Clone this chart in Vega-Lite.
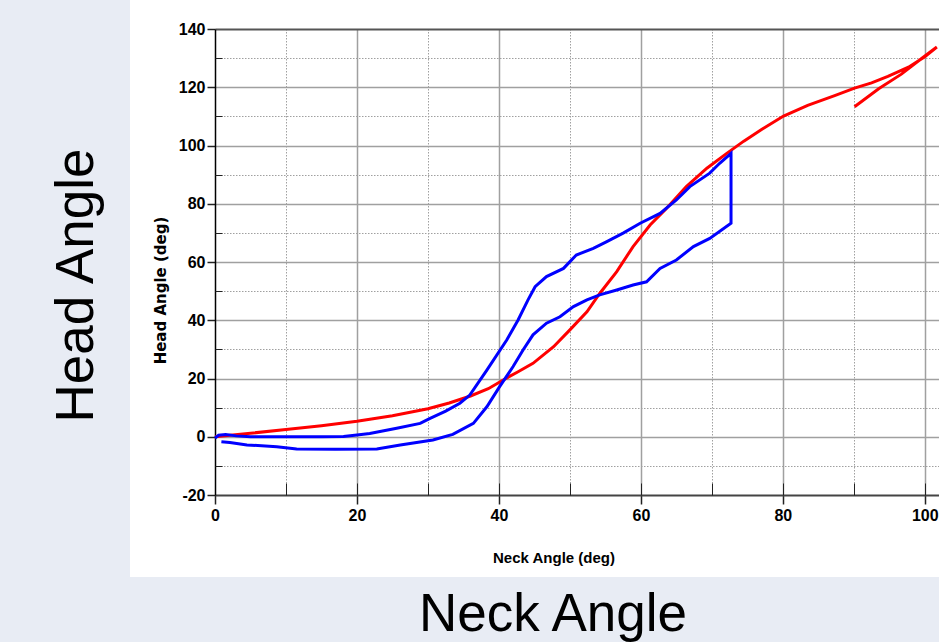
{
  "$schema": "https://vega.github.io/schema/vega-lite/v6.json",
  "width": 724,
  "height": 466,
  "autosize": "none",
  "padding": {"left": 215, "top": 29, "right": 0, "bottom": 147},
  "background": "white",
  "config": {"view": {"stroke": null}},
  "datasets": {
    "red": [
      {"i": 1, "x": 0, "y": 0}, {"i": 2, "x": 5, "y": 1.2}, {"i": 3, "x": 10, "y": 2.5}, {"i": 4, "x": 15, "y": 3.8},
      {"i": 5, "x": 20, "y": 5.3}, {"i": 6, "x": 25, "y": 7.2}, {"i": 7, "x": 30, "y": 9.6}, {"i": 8, "x": 33, "y": 11.6},
      {"i": 9, "x": 36, "y": 14.0}, {"i": 10, "x": 38.5, "y": 16.5}, {"i": 11, "x": 40.6, "y": 19.5}, {"i": 12, "x": 42.7, "y": 22.3},
      {"i": 13, "x": 44.8, "y": 25.2}, {"i": 14, "x": 47.7, "y": 30.9}, {"i": 15, "x": 50.0, "y": 36.7}, {"i": 16, "x": 52.4, "y": 42.9},
      {"i": 17, "x": 54.2, "y": 49.2}, {"i": 18, "x": 56.6, "y": 56.7}, {"i": 19, "x": 58.9, "y": 65.3}, {"i": 20, "x": 61.3, "y": 72.7},
      {"i": 21, "x": 63.6, "y": 78.4}, {"i": 22, "x": 66.4, "y": 85.9}, {"i": 23, "x": 69.3, "y": 92.2}, {"i": 24, "x": 72.1, "y": 97.3},
      {"i": 25, "x": 74.5, "y": 101.5}, {"i": 26, "x": 77, "y": 105.5}, {"i": 27, "x": 80.1, "y": 110.1}, {"i": 28, "x": 83.5, "y": 113.8},
      {"i": 29, "x": 87.3, "y": 117.1}, {"i": 30, "x": 90.1, "y": 119.7}, {"i": 31, "x": 92.5, "y": 121.5}, {"i": 32, "x": 94.8, "y": 123.7},
      {"i": 33, "x": 97.7, "y": 126.9}, {"i": 34, "x": 100, "y": 130.5}, {"i": 35, "x": 101.7, "y": 133.8},
      {"i": 36, "x": 99.5, "y": 129.8}, {"i": 37, "x": 96.7, "y": 124.5}, {"i": 38, "x": 93.5, "y": 119.5}, {"i": 39, "x": 90.1, "y": 113.3}
    ],
    "blue": [
      {"i": 1, "x": 0, "y": -0.5}, {"i": 2, "x": 0.5, "y": 0.5}, {"i": 3, "x": 1.5, "y": 0.8}, {"i": 4, "x": 3, "y": 0.3},
      {"i": 5, "x": 5, "y": 0}, {"i": 6, "x": 10, "y": 0}, {"i": 7, "x": 15, "y": 0}, {"i": 8, "x": 18.1, "y": 0.1},
      {"i": 9, "x": 20, "y": 0.6}, {"i": 10, "x": 21.8, "y": 1.1}, {"i": 11, "x": 25.6, "y": 2.9}, {"i": 12, "x": 28.9, "y": 4.6},
      {"i": 13, "x": 30.3, "y": 6.3}, {"i": 14, "x": 32.5, "y": 8.8}, {"i": 15, "x": 34.5, "y": 11.5}, {"i": 16, "x": 35.9, "y": 14.3},
      {"i": 17, "x": 38.3, "y": 22.9}, {"i": 18, "x": 41.1, "y": 33.2}, {"i": 19, "x": 42.7, "y": 40.1}, {"i": 20, "x": 44.1, "y": 47.0},
      {"i": 21, "x": 45.1, "y": 51.5}, {"i": 22, "x": 46.7, "y": 55.0}, {"i": 23, "x": 49.1, "y": 57.8}, {"i": 24, "x": 50.9, "y": 62.4},
      {"i": 25, "x": 53.3, "y": 64.7}, {"i": 26, "x": 55.2, "y": 67.0}, {"i": 27, "x": 57.5, "y": 69.9}, {"i": 28, "x": 59.9, "y": 73.3},
      {"i": 29, "x": 62.7, "y": 76.7}, {"i": 30, "x": 65.0, "y": 81.3}, {"i": 31, "x": 66.9, "y": 85.9}, {"i": 32, "x": 69.7, "y": 90.5},
      {"i": 33, "x": 71.1, "y": 93.9}, {"i": 34, "x": 72.7, "y": 97.3}, {"i": 35, "x": 72.7, "y": 73.3}, {"i": 36, "x": 69.7, "y": 68.1},
      {"i": 37, "x": 67.4, "y": 65.3}, {"i": 38, "x": 65.0, "y": 60.7}, {"i": 39, "x": 62.7, "y": 57.8}, {"i": 40, "x": 60.8, "y": 53.2},
      {"i": 41, "x": 58.9, "y": 52.1}, {"i": 42, "x": 56.6, "y": 50.4}, {"i": 43, "x": 54.2, "y": 48.7}, {"i": 44, "x": 52.4, "y": 47.0},
      {"i": 45, "x": 50.5, "y": 44.7}, {"i": 46, "x": 48.6, "y": 41.2}, {"i": 47, "x": 46.7, "y": 39.0}, {"i": 48, "x": 44.8, "y": 35.0},
      {"i": 49, "x": 43.4, "y": 29.8}, {"i": 50, "x": 42.0, "y": 24.1}, {"i": 51, "x": 40.1, "y": 17.2}, {"i": 52, "x": 38.3, "y": 10.3},
      {"i": 53, "x": 36.4, "y": 4.6}, {"i": 54, "x": 33.5, "y": 0.8}, {"i": 55, "x": 30.7, "y": -1.1}, {"i": 56, "x": 26.1, "y": -2.8},
      {"i": 57, "x": 22.8, "y": -4.2}, {"i": 58, "x": 17, "y": -4.3}, {"i": 59, "x": 11.5, "y": -4.2}, {"i": 60, "x": 8.7, "y": -3.4},
      {"i": 61, "x": 4.5, "y": -2.8}, {"i": 62, "x": 2.1, "y": -2.0}, {"i": 63, "x": 0.9, "y": -1.7}
    ]
  },
  "resolve": {"axis": {"x": "independent", "y": "independent"}},
  "layer": [
    {
      "data": {"values": [{}]},
      "mark": {"type": "rect", "color": "#e8ecf4", "clip": false},
      "encoding": {
        "x": {"datum": -32, "type": "quantitative", "scale": {"domain": [0, 102], "nice": false, "zero": false},
          "axis": {"orient": "bottom", "zindex": 1, "domain": false, "ticks": false, "labels": false, "grid": false,
            "title": "Neck Angle", "titleFont": "Liberation Sans", "titleFontSize": 53, "titleFontWeight": "normal", "titleColor": "#000000",
            "titleX": 337.5, "titleY": 135, "titleBaseline": "alphabetic", "titleAlign": "center", "titleAngle": 0}},
        "x2": {"datum": -11.975},
        "y": {"datum": 152, "type": "quantitative", "scale": {"domain": [-20, 140], "nice": false, "zero": false},
          "axis": {"orient": "left", "zindex": 1, "domain": false, "ticks": false, "labels": false, "grid": false,
            "title": "Head Angle", "titleFont": "Liberation Sans", "titleFontSize": 53, "titleFontWeight": "normal", "titleColor": "#000000",
            "titleX": -123, "titleY": 256, "titleBaseline": "alphabetic", "titleAlign": "center", "titleAngle": -90}},
        "y2": {"datum": -75}
      }
    },
    {
      "data": {"values": [{}]},
      "mark": {"type": "rect", "color": "#e8ecf4", "clip": false},
      "encoding": {
        "x": {"datum": -11.975, "type": "quantitative",
          "axis": {"orient": "bottom", "zindex": 0, "values": [0, 20, 40, 60, 80, 100], "grid": false,
            "domain": true, "domainColor": "#444444", "domainWidth": 2,
            "ticks": true, "tickSize": 9, "tickColor": "#222222", "tickWidth": 1.5,
            "labels": true, "labelFont": "Liberation Sans", "labelFontWeight": "bold", "labelFontSize": 16, "labelColor": "#000000",
            "labelPadding": 3, "labelFlush": false, "labelOverlap": false, "labelExpr": "'' + datum.value",
            "title": "Neck Angle (deg)", "titleFont": "Liberation Sans", "titleFontWeight": "bold", "titleFontSize": 15, "titleColor": "#000000",
            "titleX": 338.5, "titleY": 67, "titleBaseline": "alphabetic", "titleAlign": "center"}},
        "x2": {"datum": 104},
        "y": {"datum": -48.15, "type": "quantitative",
          "axis": {"orient": "left", "zindex": 0, "values": [-20, 0, 20, 40, 60, 80, 100, 120, 140], "grid": false,
            "domain": true, "domainColor": "#000000", "domainWidth": 1.5,
            "ticks": true, "tickSize": 8, "tickColor": "#222222", "tickWidth": 1.5,
            "labels": true, "labelFont": "Liberation Sans", "labelFontWeight": "bold", "labelFontSize": 16, "labelColor": "#000000",
            "labelPadding": 2, "labelFlush": false, "labelOverlap": false, "labelExpr": "'' + datum.value",
            "title": "Head Angle (deg)", "titleFont": "DejaVu Sans", "titleFontWeight": "bold", "titleFontSize": 15, "titleColor": "#000000",
            "titleX": -50, "titleY": 261, "titleBaseline": "alphabetic", "titleAlign": "center", "titleAngle": -90}},
        "y2": {"datum": -75}
      }
    },
    {
      "data": {"name": "red"},
      "mark": {"type": "line", "color": "#ff0000", "strokeWidth": 3, "clip": false},
      "encoding": {
        "x": {"field": "x", "type": "quantitative",
          "axis": {"orient": "top", "zindex": 0, "values": [10, 20, 30, 40, 50, 60, 70, 80, 90, 100],
            "grid": true, "gridColor": "#a0a0a0",
            "gridWidth": {"condition": {"test": "datum.value % 20 !== 0", "value": 1}, "value": 1.5},
            "gridDash": {"condition": {"test": "datum.value % 20 !== 0", "value": [1.5, 1.5]}, "value": []},
            "domain": true, "domainColor": "#555555", "domainWidth": 2, "ticks": false, "labels": false, "title": null}},
        "y": {"field": "y", "type": "quantitative",
          "axis": {"orient": "right", "zindex": 0, "values": [-10, 0, 10, 20, 30, 40, 50, 60, 70, 80, 90, 100, 110, 120, 130],
            "grid": true, "gridColor": "#a0a0a0",
            "gridWidth": {"condition": {"test": "datum.value % 20 !== 0", "value": 1}, "value": 1.5},
            "gridDash": {"condition": {"test": "datum.value % 20 !== 0", "value": [1.5, 1.5]}, "value": []},
            "domain": false, "ticks": false, "labels": false, "title": null}},
        "order": {"field": "i", "type": "quantitative"}
      }
    },
    {
      "data": {"name": "blue"},
      "mark": {"type": "line", "color": "#0000ff", "strokeWidth": 3, "clip": false},
      "encoding": {
        "x": {"field": "x", "type": "quantitative",
          "axis": {"orient": "bottom", "zindex": 0, "values": [10, 20, 30, 40, 50, 60, 70, 80, 90, 100], "offset": -12,
            "grid": false, "domain": false, "ticks": true, "tickSize": 12, "tickColor": "#222222", "tickWidth": 1,
            "labels": false, "title": null}},
        "y": {"field": "y", "type": "quantitative",
          "axis": {"orient": "left", "zindex": 0, "values": [-10, 10, 30, 50, 70, 90, 110, 130], "offset": -7,
            "grid": false, "domain": false, "ticks": true, "tickSize": 7, "tickColor": "#222222", "tickWidth": 1,
            "labels": false, "title": null}},
        "order": {"field": "i", "type": "quantitative"}
      }
    }
  ]
}
